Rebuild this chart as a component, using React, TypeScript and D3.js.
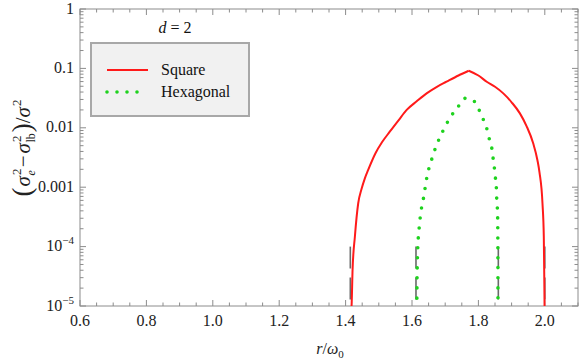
import { useEffect, useRef } from 'react'
import * as d3 from 'd3'

// ratio r/omega0 (x) and (sigma_e^2 - sigma_lb^2)/sigma^2 (y)
const squareR = [1.4146, 1.418, 1.421, 1.428, 1.438, 1.448, 1.458, 1.468, 1.49, 1.51, 1.533, 1.56, 1.584, 1.615, 1.644, 1.675, 1.704, 1.74, 1.771, 1.8, 1.825, 1.85, 1.875, 1.9, 1.925, 1.945, 1.965, 1.978, 1.984, 1.993, 1.997, 1.9993, 1.9998]
const squareV = [6.3e-6, 1e-5, 4.07e-5, 1.48e-4, 5.37e-4, 9.3e-4, 1.41e-3, 1.95e-3, 3.72e-3, 5.75e-3, 8.59e-3, 0.0135, 0.02, 0.0282, 0.038, 0.049, 0.0597, 0.0759, 0.0914, 0.0759, 0.0597, 0.049, 0.038, 0.0269, 0.0175, 0.0107, 0.0055, 0.00282, 0.00178, 5.37e-4, 1.48e-4, 1e-5, 6.3e-6]

const hexR = [1.6142, 1.6146, 1.615, 1.616, 1.618, 1.62, 1.623, 1.626, 1.632, 1.637, 1.647, 1.655, 1.664, 1.674, 1.686, 1.699, 1.714, 1.731, 1.75, 1.769, 1.787, 1.802, 1.814, 1.825, 1.832, 1.84, 1.844, 1.848, 1.851, 1.854, 1.855, 1.857, 1.858, 1.8585, 1.8588, 1.859]
const hexV = [6.3e-6, 1.12e-5, 2.4e-5, 5.25e-5, 1.15e-4, 1.66e-4, 2.45e-4, 3.63e-4, 5.37e-4, 7.94e-4, 1.7e-3, 2.45e-3, 3.55e-3, 5.13e-3, 7.24e-3, 0.0103, 0.0145, 0.02, 0.0269, 0.0366, 0.0282, 0.02, 0.0141, 0.0098, 0.00676, 0.00468, 0.00316, 0.00214, 0.00148, 1e-3, 6.76e-4, 4.57e-4, 3.09e-4, 1.45e-4, 5e-5, 6.3e-6]

// gray dashed markers at the band edges
const markerR = [1.4142, 1.612, 1.86, 2.0]

const xTicks = [0.6, 0.8, 1.0, 1.2, 1.4, 1.6, 1.8, 2.0]
const yTickLabels = ['1', '0.1', '0.01', '0.001', '10^-4', '10^-5']
const yTickValues = [1, 0.1, 0.01, 0.001, 1e-4, 1e-5]

const W = 584
const H = 360
const margin = { top: 9, right: 6, bottom: 54, left: 80 }
const FONT = '"Liberation Serif", "DejaVu Serif", serif'
const FRAME = '#8c8c8c'
const RED = '#ff1a1a'
const GREEN = '#1ed21e'

export default function App() {
  const ref = useRef<SVGSVGElement>(null)

  useEffect(() => {
    if (!ref.current) return
    const svg = d3.select(ref.current)
    svg.selectAll('*').remove()

    const x = d3.scaleLinear().domain([0.6, 2.1]).range([margin.left, W - margin.right])
    const y = d3.scaleLog().domain([1e-5, 1]).range([H - margin.bottom, margin.top])
    const [x0, x1] = x.range()
    const [y0, y1] = y.range()

    svg.append('defs').append('clipPath').attr('id', 'plot-clip')
      .append('rect').attr('x', x0).attr('y', y1).attr('width', x1 - x0).attr('height', y0 - y1)

    // frame
    svg.append('rect')
      .attr('x', x0).attr('y', y1).attr('width', x1 - x0).attr('height', y0 - y1)
      .attr('fill', 'none').attr('stroke', FRAME).attr('stroke-width', 1)

    const ticks = svg.append('g').attr('stroke', FRAME).attr('stroke-width', 1)
    // x ticks, major every 0.2, minor every 0.05
    d3.range(0.6, 2.1001, 0.05).forEach((v) => {
      const isMajor = Math.abs(v * 5 - Math.round(v * 5)) < 1e-6
      const len = isMajor ? 6 : 3.5
      const px = x(v)
      ticks.append('line').attr('x1', px).attr('x2', px).attr('y1', y0).attr('y2', y0 - len)
      ticks.append('line').attr('x1', px).attr('x2', px).attr('y1', y1).attr('y2', y1 + len)
    })
    // y ticks, log decades with minor 2..9
    for (let e = -5; e <= 0; e++) {
      for (let m = 1; m <= 9; m++) {
        const v = m * Math.pow(10, e)
        if (v > 1.0001) continue
        const len = m === 1 ? 6 : 3.5
        const py = y(v)
        ticks.append('line').attr('x1', x0).attr('x2', x0 + len).attr('y1', py).attr('y2', py)
        ticks.append('line').attr('x1', x1).attr('x2', x1 - len).attr('y1', py).attr('y2', py)
      }
    }

    // x tick labels
    svg.append('g').selectAll('text').data(xTicks).join('text')
      .attr('x', (d) => x(d)).attr('y', y0 + 20)
      .attr('text-anchor', 'middle')
      .attr('font-family', FONT).attr('font-size', 16).attr('fill', '#222')
      .text((d) => d.toFixed(1))

    // y tick labels
    yTickLabels.forEach((lab, i) => {
      const t = svg.append('text')
        .attr('x', x0 - 6).attr('y', y(yTickValues[i]) + 4.5)
        .attr('text-anchor', 'end')
        .attr('font-family', FONT).attr('font-size', 16).attr('fill', '#222')
      if (lab.includes('^')) {
        const [base, exp] = lab.split('^')
        t.append('tspan').text(base)
        t.append('tspan').attr('dy', -7).attr('font-size', 11).text(exp.replace('-', '\u2212'))
      } else {
        t.text(lab)
      }
    })

    const plot = svg.append('g').attr('clip-path', 'url(#plot-clip)')

    // band edge markers
    markerR.forEach((r) => {
      plot.append('line')
        .attr('x1', x(r)).attr('x2', x(r))
        .attr('y1', y(1e-4)).attr('y2', y(1e-5))
        .attr('stroke', '#6a6a6a').attr('stroke-width', 1.6)
        .attr('stroke-dasharray', '22 9')
    })

    const line = d3.line<[number, number]>()
      .x((d) => x(d[0])).y((d) => y(d[1]))
      .curve(d3.curveMonotoneX)

    // each curve drawn as two branches so the cusp at the peak stays sharp
    const branches = (rs: number[], vs: number[]) => {
      const pts = rs.map((r, i) => [r, vs[i]] as [number, number])
      const k = d3.maxIndex(vs)
      return [pts.slice(0, k + 1), pts.slice(k)]
    }

    branches(squareR, squareV).forEach((b) => {
      plot.append('path').datum(b).attr('d', line)
        .attr('fill', 'none').attr('stroke', RED).attr('stroke-width', 2)
    })

    branches(hexR, hexV).forEach((b, i) => {
      plot.append('path').datum(i === 0 ? b : [...b].reverse()).attr('d', line)
        .attr('fill', 'none').attr('stroke', GREEN).attr('stroke-width', 3.6)
        .attr('stroke-linecap', 'round').attr('stroke-dasharray', '0 10')
    })

    // d = 2
    const dl = svg.append('text').attr('x', 175).attr('y', 33)
      .attr('text-anchor', 'middle').attr('font-family', FONT).attr('font-size', 16).attr('fill', '#111')
    dl.append('tspan').attr('font-style', 'italic').text('d')
    dl.append('tspan').text(' = 2')

    // legend
    const lg = svg.append('g')
    lg.append('rect').attr('x', 91).attr('y', 43).attr('width', 158).attr('height', 73)
      .attr('fill', '#f1f1f1').attr('stroke', '#a8a8a8').attr('stroke-width', 2)
    lg.append('line').attr('x1', 107).attr('x2', 148).attr('y1', 70).attr('y2', 70)
      .attr('stroke', RED).attr('stroke-width', 2)
    lg.append('line').attr('x1', 107).attr('x2', 140).attr('y1', 92).attr('y2', 92)
      .attr('stroke', GREEN).attr('stroke-width', 3.6)
      .attr('stroke-linecap', 'round').attr('stroke-dasharray', '0 10')
    lg.append('text').attr('x', 161).attr('y', 75).attr('font-family', FONT).attr('font-size', 16).attr('fill', '#111').text('Square')
    lg.append('text').attr('x', 161).attr('y', 97).attr('font-family', FONT).attr('font-size', 16).attr('fill', '#111').text('Hexagonal')

    // x axis title
    const xt = svg.append('text').attr('x', 330).attr('y', 354)
      .attr('text-anchor', 'middle').attr('font-family', FONT).attr('font-size', 16).attr('fill', '#222')
    xt.append('tspan').attr('font-style', 'italic').text('r')
    xt.append('tspan').text('/')
    xt.append('tspan').attr('font-style', 'italic').text('\u03c9')
    xt.append('tspan').attr('dy', 4).attr('font-size', 11).text('0')

    // y axis title
    const yt = svg.append('text')
      .attr('transform', 'translate(30,148) rotate(-90)')
      .attr('text-anchor', 'middle').attr('font-family', FONT).attr('font-size', 21).attr('fill', '#222')
    yt.append('tspan').attr('font-size', 27).attr('dy', 1).text('(')
    yt.append('tspan').attr('font-style', 'italic').attr('dx', 1).attr('dy', -1).text('\u03c3')
    yt.append('tspan').attr('dx', 1).attr('dy', -9).attr('font-size', 13).text('2')
    yt.append('tspan').attr('dx', -7).attr('dy', 14).attr('font-size', 12).attr('font-style', 'italic').text('e')
    yt.append('tspan').attr('dx', 3).attr('dy', -5).text('\u2212')
    yt.append('tspan').attr('dx', 2).attr('font-style', 'italic').text('\u03c3')
    yt.append('tspan').attr('dx', 1).attr('dy', -9).attr('font-size', 13).text('2')
    yt.append('tspan').attr('dx', -7).attr('dy', 14).attr('font-size', 12).text('lb')
    yt.append('tspan').attr('dx', 1).attr('dy', -4).attr('font-size', 27).text(')')
    yt.append('tspan').attr('dy', -1).text('/')
    yt.append('tspan').attr('font-style', 'italic').text('\u03c3')
    yt.append('tspan').attr('dx', 1).attr('dy', -9).attr('font-size', 13).text('2')
  }, [])

  return (
    <svg
      ref={ref}
      width={W}
      height={H}
      style={{ position: 'absolute', left: 0, top: 0, background: '#fff' }}
    />
  )
}
